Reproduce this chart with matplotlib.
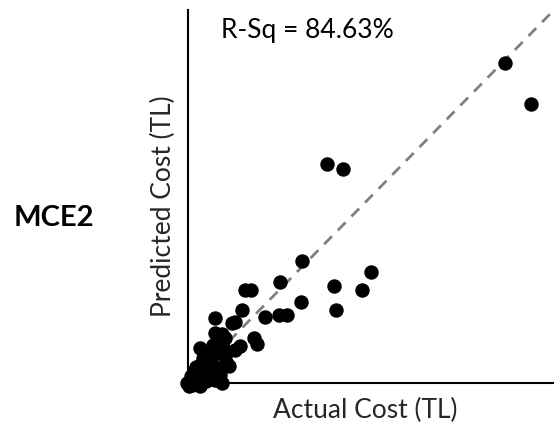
import numpy as np
import matplotlib.pyplot as plt

plt.rcParams['font.family'] = ['Lato', 'DejaVu Sans']

# actual vs predicted cost (arbitrary scale, 0..1000)
actual = [867, 937, 380, 423, 311, 500, 251, 156, 172, 399, 475, 309,
          148, 404, 74, 210, 249, 270, 120, 128, 74, 93, 180, 189, 142,
          33, 68, 96, 107,
          46, 60, 33, 19, 74, 87, 46, 19, 5, 11, 33, 60, 82, 104, 27, 55,
          68, 41, 22, -3, 3, 33, 14, 74, 93, 128, 112, 16, 41, 87, 101,
          25, 50, 8, 62]
predicted = [857, 748, 587, 574, 327, 298, 271, 249, 249, 260, 249, 217,
             196, 196, 174, 177, 182, 182, 160, 163, 134, 131, 121, 105, 99,
             94, 102, 96, 83,
             70, 56, 48, 35, 40, 21, 21, 13, 3, -5, 8, 13, 27, 56, 29, 75,
             48, 56, 43, 0, -8, -8, 11, 8, 0, 88, 45, 27, 67, 80, 120,
             0, 5, 18, 32]

fig = plt.figure(figsize=(5.54, 4.23), dpi=100)
ax = fig.add_axes([188/554, 1-383/423, 366/554, 373/423])
ax.scatter(actual, predicted, s=88, color='black', zorder=3, clip_on=False)
ax.plot([0, 1000], [0, 1000], linestyle='--', color='#808080', linewidth=2, dashes=(4, 3))
ax.set_xlim(0, 1000)
ax.set_ylim(0, 1000)
for s in ['top', 'right']:
    ax.spines[s].set_visible(False)
for s in ['left', 'bottom']:
    ax.spines[s].set_linewidth(1.5)
ax.set_xticks([])
ax.set_yticks([])

ax.text(0.09, 0.945, 'R-Sq = 84.63%', transform=ax.transAxes, fontsize=19, ha='left', va='center')
fig.text(365/554, 1-410/423, 'Actual Cost (TL)', fontsize=19, ha='center', va='center', color='#262626')
fig.text(163/554, 1-206/423, 'Predicted Cost (TL)', fontsize=19, ha='center', va='center', rotation=90, color='#262626')
fig.text(54/554, 1-218/423, 'MCE2', fontsize=21, fontweight='bold', ha='center', va='center')

fig.savefig('out.png', dpi=100)
